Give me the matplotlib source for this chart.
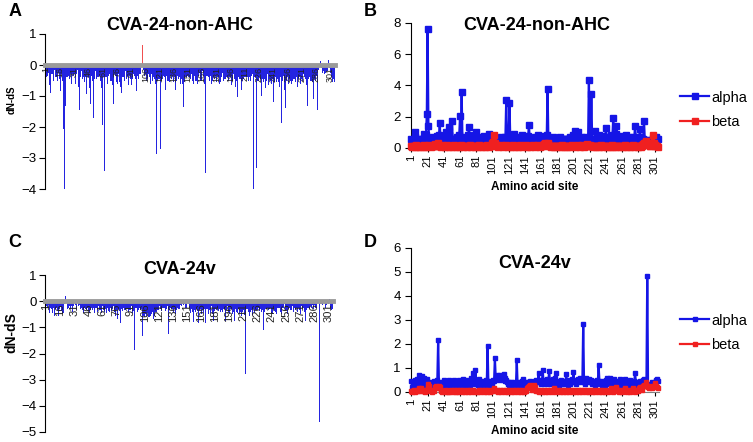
import numpy as np
import matplotlib
matplotlib.use("Agg")
import matplotlib.pyplot as plt
from matplotlib.lines import Line2D

plt.rcParams['font.family'] = ['Liberation Sans', 'DejaVu Sans']

# amino acid sites 1..305
sites = np.arange(1, 306)

# CVA-24-non-AHC: alpha / beta per site
alpha_nonahc = [
    0.6, 0.45, 0.5, 0.35, 0.7, 1.0, 0.5, 0.4, 0.55, 0.3, 0.5, 0.45, 0.6, 0.4, 0.55, 0.9, 0.5, 0.6, 0.8, 2.18,
    7.6, 1.43, 0.6, 0.5, 0.4, 0.55, 0.45, 0.7, 0.5, 0.6, 0.4, 0.75, 0.5, 0.45, 0.8, 1.6, 0.5, 0.6, 0.4, 0.55,
    0.5, 0.7, 0.45, 1.05, 0.6, 0.5, 0.8, 1.37, 0.5, 0.6, 1.75, 0.55, 0.4, 0.6, 0.5, 0.45, 0.7, 0.5, 0.6, 0.8,
    2.03, 0.6, 3.57, 0.5, 0.45, 0.7, 0.5, 0.4, 0.55, 0.6, 0.8, 1.37, 0.5, 0.45, 0.6, 0.7, 0.5, 0.4, 0.6, 0.8,
    1.05, 0.5, 0.45, 0.6, 0.4, 0.55, 0.5, 0.7, 0.45, 0.6, 0.75, 0.5, 0.4, 0.55, 0.6, 0.5, 0.9, 0.45, 0.6, 0.5,
    0.6, 0.4, 0.2, 0.5, 0.55, 0.45, 0.6, 0.5, 0.4, 0.55, 0.7, 0.5, 0.6, 0.45, 0.5, 0.6, 0.7, 3.08, 0.6, 0.5,
    0.55, 2.86, 0.6, 0.5, 0.45, 0.6, 0.9, 0.5, 0.55, 0.6, 0.7, 0.45, 0.5, 0.6, 0.55, 0.7, 0.5, 0.85, 0.6, 0.5,
    0.55, 0.6, 0.7, 0.5, 0.75, 1.47, 0.6, 0.5, 0.55, 0.45, 0.6, 0.5, 0.7, 0.55, 0.45, 0.6, 0.8, 0.5, 0.6, 0.55,
    0.7, 0.5, 0.45, 0.6, 0.75, 0.5, 0.6, 0.8, 3.78, 0.6, 0.5, 0.55, 0.45, 0.6, 0.5, 0.7, 0.55, 0.5, 0.6, 0.45,
    0.6, 0.5, 0.55, 0.7, 0.6, 0.5, 0.45, 0.6, 0.5, 0.55, 0.6, 0.5, 0.45, 0.6, 0.55, 0.5, 0.7, 0.6, 0.5, 0.55,
    0.85, 0.6, 1.08, 0.5, 0.6, 0.55, 1.0, 0.6, 0.5, 0.7, 0.55, 0.6, 0.5, 0.45, 0.6, 0.55, 0.7, 0.6, 0.5, 4.38,
    0.6, 0.5, 3.46, 0.6, 0.55, 0.5, 0.6, 1.1, 0.5, 0.6, 0.7, 0.55, 0.8, 0.6, 0.5, 0.75, 0.6, 0.55, 0.7, 0.6,
    1.28, 0.6, 0.5, 0.7, 0.55, 0.6, 0.8, 0.6, 0.7, 1.93, 0.6, 0.5, 0.9, 1.43, 0.6, 0.55, 0.7, 0.5, 0.6, 0.75,
    0.6, 0.5, 0.55, 0.7, 0.6, 0.8, 0.5, 0.6, 0.55, 0.7, 0.5, 0.6, 0.45, 0.6, 0.55, 0.7, 1.43, 0.6, 0.5, 0.55,
    0.6, 0.7, 1.2, 0.5, 0.6, 0.55, 0.6, 1.75, 0.5, 0.45, 0.3, 0.4, 0.5, 0.4, 0.45, 0.35, 0.4, 0.5, 0.65, 0.4,
    0.45, 0.5, 0.7, 0.55, 0.6,
]
beta_nonahc = [
    0.1, 0.05, 0.15, 0.1, 0.05, 0.1, 0.2, 0.1, 0.05, 0.15, 0.1, 0.05, 0.1, 0.15, 0.1, 0.05, 0.2, 0.1, 0.05, 0.1,
    0.15, 0.1, 0.2, 0.1, 0.05, 0.1, 0.15, 0.1, 0.2, 0.25, 0.1, 0.15, 0.2, 0.3, 0.1, 0.15, 0.1, 0.05, 0.2, 0.1,
    0.1, 0.15, 0.05, 0.1, 0.2, 0.1, 0.05, 0.1, 0.15, 0.1, 0.05, 0.1, 0.2, 0.15, 0.1, 0.05, 0.1, 0.15, 0.1, 0.05,
    0.1, 0.2, 0.15, 0.1, 0.05, 0.1, 0.15, 0.1, 0.05, 0.1, 0.15, 0.1, 0.2, 0.1, 0.05, 0.1, 0.15, 0.1, 0.05, 0.1,
    0.15, 0.1, 0.05, 0.1, 0.2, 0.1, 0.15, 0.05, 0.1, 0.15, 0.1, 0.05, 0.1, 0.2, 0.15, 0.1, 0.05, 0.1, 0.15, 0.2,
    0.3, 0.4, 0.83, 0.35, 0.2, 0.15, 0.1, 0.05, 0.1, 0.15, 0.1, 0.2, 0.1, 0.05, 0.1, 0.15, 0.1, 0.2, 0.1, 0.05,
    0.1, 0.15, 0.1, 0.05, 0.1, 0.2, 0.1, 0.15, 0.05, 0.1, 0.15, 0.1, 0.05, 0.1, 0.2, 0.15, 0.1, 0.05, 0.1, 0.15,
    0.1, 0.2, 0.1, 0.05, 0.15, 0.1, 0.05, 0.1, 0.15, 0.1, 0.2, 0.1, 0.05, 0.1, 0.15, 0.1, 0.2, 0.15, 0.1, 0.05,
    0.1, 0.15, 0.2, 0.1, 0.25, 0.3, 0.25, 0.2, 0.3, 0.25, 0.15, 0.1, 0.05, 0.1, 0.15, 0.1, 0.05, 0.1, 0.15, 0.1,
    0.05, 0.1, 0.15, 0.1, 0.05, 0.1, 0.2, 0.1, 0.05, 0.1, 0.15, 0.1, 0.05, 0.1, 0.15, 0.1, 0.05, 0.1, 0.2, 0.1,
    0.15, 0.1, 0.05, 0.1, 0.15, 0.1, 0.2, 0.1, 0.05, 0.1, 0.15, 0.2, 0.1, 0.05, 0.1, 0.15, 0.2, 0.25, 0.2, 0.15,
    0.2, 0.1, 0.15, 0.1, 0.05, 0.1, 0.15, 0.1, 0.05, 0.1, 0.15, 0.1, 0.05, 0.1, 0.2, 0.1, 0.15, 0.05, 0.1, 0.15,
    0.1, 0.05, 0.1, 0.15, 0.1, 0.05, 0.1, 0.2, 0.1, 0.05, 0.1, 0.15, 0.1, 0.05, 0.1, 0.15, 0.1, 0.05, 0.1, 0.15,
    0.1, 0.05, 0.1, 0.15, 0.2, 0.1, 0.05, 0.1, 0.15, 0.1, 0.05, 0.1, 0.15, 0.2, 0.1, 0.05, 0.1, 0.15, 0.1, 0.05,
    0.1, 0.15, 0.1, 0.05, 0.1, 0.2, 0.25, 0.3, 0.35, 0.4, 0.43, 0.3, 0.25, 0.2, 0.15, 0.1, 0.2, 0.3, 0.8, 0.3,
    0.2, 0.1, 0.15, 0.1, 0.05,
]

# CVA-24v: alpha / beta per site
alpha_24v = [
    0.45, 0.2, 0.3, 0.25, 0.5, 0.3, 0.35, 0.55, 0.3, 0.7, 0.4, 0.3, 0.5, 0.65, 0.35, 0.3, 0.6, 0.4, 0.5, 0.55,
    0.3, 0.15, 0.25, 0.4, 0.3, 0.2, 0.35, 0.3, 0.45, 0.4, 0.3, 0.35, 0.5, 2.18, 0.3, 0.4, 0.25, 0.35, 0.3, 0.4,
    0.5, 0.3, 0.35, 0.45, 0.3, 0.4, 0.5, 0.35, 0.3, 0.45, 0.4, 0.3, 0.5, 0.35, 0.3, 0.45, 0.3, 0.4, 0.35, 0.5,
    0.3, 0.4, 0.45, 0.35, 0.55, 0.3, 0.4, 0.35, 0.5, 0.3, 0.4, 0.35, 0.3, 0.45, 0.6, 0.4, 0.8, 0.35, 0.4, 0.9,
    0.35, 0.4, 0.3, 0.45, 0.55, 0.35, 0.3, 0.4, 0.45, 0.35, 0.4, 0.3, 0.5, 0.4, 1.9, 0.35, 0.3, 0.45, 0.4, 0.35,
    0.4, 0.5, 0.45, 1.42, 0.6, 0.7, 0.55, 0.6, 0.5, 0.7, 0.65, 0.6, 0.55, 0.5, 0.75, 0.6, 0.45, 0.5, 0.4, 0.35,
    0.4, 0.3, 0.35, 0.4, 0.3, 0.35, 0.3, 0.4, 0.35, 0.3, 1.32, 0.35, 0.3, 0.4, 0.35, 0.3, 0.45, 0.4, 0.55, 0.35,
    0.3, 0.4, 0.35, 0.3, 0.4, 0.35, 0.45, 0.3, 0.4, 0.35, 0.3, 0.4, 0.45, 0.35, 0.5, 0.4, 0.45, 0.8, 0.4, 0.5,
    0.35, 0.4, 0.9, 0.45, 0.35, 0.5, 0.4, 0.55, 0.35, 0.45, 0.88, 0.4, 0.35, 0.5, 0.4, 0.55, 0.35, 0.6, 0.8, 0.4,
    0.35, 0.45, 0.3, 0.4, 0.35, 0.5, 0.4, 0.35, 0.45, 0.4, 0.35, 0.76, 0.4, 0.3, 0.45, 0.5, 0.35, 0.4, 0.55, 0.45,
    0.82, 0.4, 0.45, 0.35, 0.5, 0.4, 0.55, 0.45, 0.6, 0.5, 0.4, 0.55, 2.85, 0.4, 0.35, 0.45, 0.6, 0.5, 0.4, 0.55,
    0.45, 0.4, 0.5, 0.35, 0.4, 0.45, 0.3, 0.4, 0.35, 0.5, 0.4, 1.11, 0.45, 0.4, 0.35, 0.3, 0.4, 0.45, 0.35, 0.3,
    0.5, 0.6, 0.35, 0.4, 0.45, 0.6, 0.4, 0.35, 0.3, 0.45, 0.55, 0.35, 0.4, 0.3, 0.45, 0.4, 0.35, 0.55, 0.4, 0.3,
    0.35, 0.4, 0.3, 0.55, 0.35, 0.4, 0.3, 0.45, 0.35, 0.4, 0.5, 0.35, 0.3, 0.4, 0.35, 0.45, 0.78, 0.4, 0.35, 0.3,
    0.4, 0.35, 0.45, 0.3, 0.4, 0.35, 0.5, 0.55, 0.4, 0.3, 0.35, 4.85, 0.3, 0.25, 0.35, 0.3, 0.25, 0.4, 0.35, 0.3,
    0.4, 0.3, 0.5, 0.55, 0.45,
]
beta_24v = [
    0.05, 0.02, 0.05, 0.1, 0.05, 0.02, 0.05, 0.1, 0.05, 0.15, 0.1, 0.05, 0.15, 0.1, 0.05, 0.1, 0.05, 0.02, 0.05, 0.1,
    0.2, 0.35, 0.25, 0.1, 0.05, 0.02, 0.05, 0.1, 0.05, 0.2, 0.25, 0.2, 0.15, 0.2, 0.25, 0.2, 0.1, 0.05, 0.02, 0.05,
    0.05, 0.02, 0.05, 0.1, 0.05, 0.02, 0.05, 0.02, 0.05, 0.1, 0.05, 0.02, 0.05, 0.1, 0.05, 0.02, 0.1, 0.05, 0.02, 0.05,
    0.1, 0.05, 0.02, 0.05, 0.1, 0.05, 0.02, 0.05, 0.1, 0.05, 0.02, 0.05, 0.1, 0.05, 0.02, 0.05, 0.1, 0.05, 0.02, 0.05,
    0.05, 0.02, 0.05, 0.1, 0.05, 0.02, 0.05, 0.1, 0.05, 0.02, 0.05, 0.1, 0.05, 0.02, 0.05, 0.1, 0.05, 0.02, 0.05, 0.1,
    0.05, 0.1, 0.15, 0.1, 0.05, 0.1, 0.05, 0.02, 0.05, 0.1, 0.05, 0.02, 0.05, 0.1, 0.05, 0.02, 0.05, 0.1, 0.05, 0.02,
    0.05, 0.1, 0.05, 0.02, 0.05, 0.1, 0.05, 0.02, 0.05, 0.1, 0.05, 0.02, 0.05, 0.1, 0.05, 0.02, 0.05, 0.1, 0.05, 0.02,
    0.05, 0.1, 0.05, 0.15, 0.2, 0.25, 0.3, 0.2, 0.15, 0.1, 0.25, 0.3, 0.2, 0.1, 0.05, 0.1, 0.05, 0.02, 0.05, 0.1,
    0.05, 0.02, 0.05, 0.1, 0.05, 0.02, 0.05, 0.1, 0.05, 0.02, 0.05, 0.1, 0.05, 0.02, 0.05, 0.1, 0.15, 0.1, 0.05, 0.02,
    0.05, 0.1, 0.05, 0.02, 0.05, 0.1, 0.05, 0.02, 0.05, 0.1, 0.05, 0.02, 0.05, 0.1, 0.05, 0.02, 0.05, 0.1, 0.05, 0.02,
    0.05, 0.1, 0.05, 0.02, 0.05, 0.1, 0.05, 0.02, 0.05, 0.1, 0.05, 0.02, 0.05, 0.1, 0.05, 0.02, 0.05, 0.1, 0.05, 0.02,
    0.05, 0.1, 0.05, 0.02, 0.05, 0.1, 0.05, 0.02, 0.05, 0.1, 0.05, 0.02, 0.05, 0.1, 0.05, 0.02, 0.05, 0.1, 0.05, 0.02,
    0.05, 0.1, 0.05, 0.02, 0.05, 0.1, 0.15, 0.1, 0.05, 0.02, 0.05, 0.1, 0.15, 0.2, 0.1, 0.05, 0.02, 0.05, 0.1, 0.05,
    0.02, 0.05, 0.1, 0.15, 0.1, 0.05, 0.02, 0.05, 0.1, 0.05, 0.02, 0.05, 0.1, 0.15, 0.1, 0.05, 0.02, 0.05, 0.1, 0.05,
    0.1, 0.15, 0.2, 0.15, 0.1, 0.2, 0.25, 0.3, 0.25, 0.3, 0.4, 0.25, 0.2, 0.15, 0.2, 0.25, 0.2, 0.15, 0.2, 0.25,
    0.3, 0.38, 0.25, 0.2, 0.15,
]

for arr in (alpha_nonahc, beta_nonahc, alpha_24v, beta_24v):
    assert len(arr) == len(sites), len(arr)

bar_ticks = list(range(1, 302, 15))
line_ticks = list(range(1, 302, 20))

BLUE = '#1515e6'
RED = '#f02020'

W, H = 753, 442
fig = plt.figure(figsize=(W / 100, H / 100), dpi=100)


def rect(l, t, r, b):
    return [l / W, 1 - b / H, (r - l) / W, (b - t) / H]


def bar_panel(ax, alpha, beta, ymin, ymax, xfs):
    dnds = np.array(beta) - np.array(alpha)
    colors = np.where(dnds > 0.5, '#f05050', '#2424e0')
    ax.bar(sites, dnds, width=1.0, color=colors, linewidth=0)
    ax.set_xlim(0, 306)
    ax.set_ylim(ymin, ymax)
    ax.set_yticks(range(ymin, ymax + 1))
    ax.spines['bottom'].set_position(('data', 0))
    ax.spines['bottom'].set_color('#9a9a9a')
    ax.spines['bottom'].set_linewidth(3.5)
    ax.spines['top'].set_visible(False)
    ax.spines['right'].set_visible(False)
    ax.set_xticks(bar_ticks)
    ax.set_xticklabels([str(t) for t in bar_ticks], rotation=90, fontsize=xfs, color='#222222')
    ax.tick_params(axis='x', length=0, pad=1.5)
    ax.tick_params(axis='y', labelsize=9.5, length=4, direction='out', pad=2)


def line_panel(ax, alpha, beta, ymax, ystep, ms):
    ax.plot(sites, alpha, color=BLUE, lw=1.6, marker='s', ms=ms, clip_on=False, zorder=3)
    ax.plot(sites, beta, color=RED, lw=2.5, marker='s', ms=ms, clip_on=False, zorder=4)
    ax.set_xlim(0.5, 306.5)
    ax.set_ylim(0, ymax)
    ax.set_yticks(range(0, ymax + 1, ystep))
    ax.spines['top'].set_visible(False)
    ax.spines['right'].set_visible(False)
    ax.spines['bottom'].set_color('#808080')
    ax.set_xticks(line_ticks)
    ax.set_xticklabels([str(t) for t in line_ticks], rotation=90, fontsize=8)
    ax.tick_params(axis='x', length=3, pad=2)
    ax.tick_params(axis='y', labelsize=9.5, length=4, direction='out')
    ax.set_xlabel('Amino acid site', fontsize=8.5, fontweight='bold', labelpad=5)


# --- A ---
axA = fig.add_axes(rect(45, 34, 335, 189))
bar_panel(axA, alpha_nonahc, beta_nonahc, -4, 1, 6.5)
fig.text(12 / W, 1 - 100 / H, 'dN-dS', rotation=90, fontsize=7, fontweight='bold', ha='center', va='center')
fig.text(180 / W, 1 - 25 / H, 'CVA-24-non-AHC', fontsize=13, fontweight='bold', ha='center', va='center')

# --- B ---
axB = fig.add_axes(rect(411, 23, 659, 148))
line_panel(axB, alpha_nonahc, beta_nonahc, 8, 2, 4)
fig.text(537 / W, 1 - 25 / H, 'CVA-24-non-AHC', fontsize=13, fontweight='bold', ha='center', va='center')

# --- C ---
axC = fig.add_axes(rect(45, 275, 333, 432))
bar_panel(axC, alpha_24v, beta_24v, -5, 1, 8)
fig.text(11 / W, 1 - 333 / H, 'dN-dS', rotation=90, fontsize=10, fontweight='bold', ha='center', va='center')
fig.text(180 / W, 1 - 269 / H, 'CVA-24v', fontsize=13, fontweight='bold', ha='center', va='center')

# --- D ---
axD = fig.add_axes(rect(411, 248, 659, 392))
line_panel(axD, alpha_24v, beta_24v, 6, 1, 3)
fig.text(535 / W, 1 - 263 / H, 'CVA-24v', fontsize=13, fontweight='bold', ha='center', va='center')

# legends
for y_mid, ms in ((110, 4), (333, 3)):
    handles = [Line2D([], [], color=BLUE, lw=1.6, marker='s', ms=ms),
               Line2D([], [], color=RED, lw=1.6, marker='s', ms=ms)]
    fig.legend(handles, ['alpha', 'beta'], loc='center left',
               bbox_to_anchor=(680 / W, 1 - y_mid / H), frameon=False, fontsize=10.5,
               handlelength=2.0, handletextpad=0.15, labelspacing=0.75,
               borderpad=0, borderaxespad=0)

# panel letters
for letter, x, y in (('A', 15, 12), ('B', 370, 12), ('C', 15, 242), ('D', 370, 242)):
    fig.text(x / W, 1 - y / H, letter, fontsize=13, fontweight='bold', ha='center', va='center')

fig.savefig('out.png', dpi=100)
